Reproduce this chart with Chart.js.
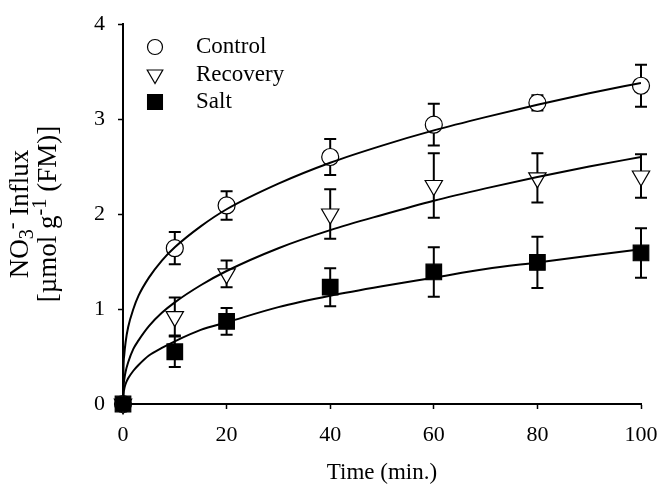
<!DOCTYPE html>
<html>
<head>
<meta charset="utf-8">
<script src="https://cdn.jsdelivr.net/npm/chart.js@4.4.0/dist/chart.umd.min.js"></script>
<style>
  html, body { margin: 0; padding: 0; background: #fff; }
  #wrap { width: 660px; height: 487px; }
</style>
</head>
<body>
<div id="wrap"><canvas id="myChart" width="660" height="487"></canvas></div>
<script>
// measured time points (min.)
var time = [0, 10, 20, 40, 60, 80, 100];
var control = [0, 1.64, 2.09, 2.60, 2.94, 3.17, 3.35];
var controlErr = [0, 0.17, 0.15, 0.19, 0.22, 0.08, 0.22];
var recovery = [0, 0.92, 1.37, 2.00, 2.30, 2.38, 2.40];
var recoveryErr = [0, 0.20, 0.14, 0.26, 0.34, 0.26, 0.23];
var salt = [0, 0.55, 0.87, 1.23, 1.39, 1.49, 1.59];
var saltErr = [0, 0.16, 0.14, 0.20, 0.26, 0.27, 0.26];

// fitted curves
var fitTime = [0, 0.1, 0.25, 0.5, 1, 2, 3, 5, 7.5, 10, 15, 20, 30, 40, 50, 60, 70, 80, 90, 100];
var controlFit = [0, 0.39, 0.52, 0.65, 0.81, 1.00, 1.14, 1.33, 1.51, 1.65, 1.87, 2.05, 2.32, 2.54, 2.72, 2.88, 3.02, 3.15, 3.27, 3.38];
var recoveryFit = [0, 0.18, 0.26, 0.34, 0.44, 0.58, 0.67, 0.82, 0.96, 1.07, 1.25, 1.40, 1.64, 1.83, 1.99, 2.14, 2.27, 2.39, 2.50, 2.60];
var saltFit = [0, 0.11, 0.16, 0.21, 0.27, 0.35, 0.41, 0.51, 0.59, 0.66, 0.78, 0.86, 1.02, 1.14, 1.24, 1.33, 1.42, 1.49, 1.56, 1.63];

var seriesNames = ['Control', 'Recovery', 'Salt'];
var xTicks = [0, 20, 40, 60, 80, 100];
var yTicks = [0, 1, 2, 3, 4];

// y axis title, split into pieces: sub = subscript, sup = superscript
var yTitle1 = [{ t: 'NO' }, { t: '3', sub: true }, { t: '-', sup: true }, { t: ' Influx' }];
var yTitle2 = [{ t: '[\u00B5mol g' }, { t: '-1', sup: true }, { t: ' (FM)]' }];

var FONT = "'Liberation Serif', 'Times New Roman', serif";

function pts(xs, ys) {
    return xs.map(function (x, i) { return { x: x, y: ys[i] }; });
}

function fitLine(ys) {
    return {
        type: 'line',
        data: pts(fitTime, ys),
        borderColor: '#000',
        borderWidth: 2,
        pointRadius: 0,
        fill: false,
        showLine: true,
        cubicInterpolationMode: 'monotone',
        order: 0
    };
}

var markers = [
    { pointStyle: 'circle', radius: 8.5, legendRadius: 7.5, rotation: 0, fill: '#fff' },
    { pointStyle: 'triangle', radius: 10, legendRadius: 9, rotation: 180, fill: '#fff' },
    { pointStyle: 'rect', radius: 11, legendRadius: 10.5, rotation: 0, fill: '#000' }
];

function markerSet(ys, errs, m, order, label) {
    return {
        type: 'scatter',
        label: label,
        data: pts(time, ys),
        errors: errs,
        pointStyle: m.pointStyle,
        pointRadius: m.radius,
        pointRotation: m.rotation,
        pointBackgroundColor: m.fill,
        pointBorderColor: '#000',
        pointBorderWidth: 1.2,
        showLine: false,
        clip: false,
        order: order
    };
}

var errorBars = {
    id: 'errorBars',
    beforeDatasetsDraw: function (chart) {
        var ctx = chart.ctx, xs = chart.scales.x, ys = chart.scales.y;
        ctx.save();
        ctx.strokeStyle = '#000';
        ctx.lineWidth = 2;
        chart.data.datasets.forEach(function (ds) {
            if (!ds.errors) return;
            ds.data.forEach(function (p, i) {
                var e = ds.errors[i];
                if (!e) return;
                var x = xs.getPixelForValue(p.x);
                var y1 = ys.getPixelForValue(p.y + e);
                var y2 = ys.getPixelForValue(p.y - e);
                ctx.beginPath();
                ctx.moveTo(x, y1); ctx.lineTo(x, y2);
                ctx.moveTo(x - 6, y1); ctx.lineTo(x + 6, y1);
                ctx.moveTo(x - 6, y2); ctx.lineTo(x + 6, y2);
                ctx.stroke();
            });
        });
        ctx.restore();
    }
};

function drawRich(ctx, parts, cx, cy, size) {
    var total = 0;
    parts.forEach(function (p) {
        ctx.font = ((p.sub || p.sup) ? size * 0.75 : size) + 'px ' + FONT;
        p.w = ctx.measureText(p.t).width;
        total += p.w;
    });
    ctx.save();
    ctx.translate(cx, cy);
    ctx.rotate(-Math.PI / 2);
    ctx.textBaseline = 'alphabetic';
    var x = -total / 2;
    parts.forEach(function (p) {
        ctx.font = ((p.sub || p.sup) ? size * 0.75 : size) + 'px ' + FONT;
        var dy = p.sub ? size * 0.2 : (p.sup ? -size * 0.38 : 0);
        ctx.fillText(p.t, x, size * 0.33 + dy);
        x += p.w;
    });
    ctx.restore();
}

var labels = {
    id: 'labels',
    afterDraw: function (chart) {
        var ctx = chart.ctx, area = chart.chartArea;
        ctx.save();
        ctx.fillStyle = '#000';
        var midY = (area.top + area.bottom) / 2;
        drawRich(ctx, yTitle1, 19, midY, 27);
        drawRich(ctx, yTitle2, 47, midY, 27);

        ctx.font = '23px ' + FONT;
        ctx.textBaseline = 'middle';
        seriesNames.forEach(function (name, i) {
            var m = markers[i];
            var mx = area.left + 32, my = area.top + 23 + i * 27.5;
            ctx.fillStyle = m.fill;
            ctx.strokeStyle = '#000';
            ctx.lineWidth = 1.2;
            Chart.helpers.drawPoint(ctx, {
                pointStyle: m.pointStyle, radius: m.legendRadius, rotation: m.rotation, borderWidth: 1.2
            }, mx, my);
            ctx.fillStyle = '#000';
            ctx.fillText(name, area.left + 73, my);
        });
        ctx.restore();
    }
};

var config = {
    type: 'scatter',
    data: {
        datasets: [
            fitLine(controlFit),
            fitLine(recoveryFit),
            fitLine(saltFit),
            markerSet(salt, saltErr, markers[2], 1, seriesNames[2]),
            markerSet(recovery, recoveryErr, markers[1], 2, seriesNames[1]),
            markerSet(control, controlErr, markers[0], 3, seriesNames[0])
        ]
    },
    options: {
        responsive: false,
        animation: false,
        layout: { padding: { top: 24, right: 0, left: 0, bottom: 0 } },
        plugins: {
            legend: { display: false },
            tooltip: { enabled: false }
        },
        scales: {
            x: {
                type: 'linear',
                min: 0,
                max: 100,
                afterBuildTicks: function (s) { s.ticks = xTicks.map(function (v) { return { value: v }; }); },
                afterFit: function (s) { s.height = 83; s.paddingLeft = 0; s.paddingRight = 19; },
                border: { color: '#000', width: 2 },
                grid: { drawOnChartArea: false, tickLength: 5, tickColor: '#000', tickWidth: 1.5 },
                ticks: { color: '#000', font: { family: FONT, size: 22 }, padding: 13, maxRotation: 0 },
                title: { display: true, text: 'Time (min.)', color: '#000', font: { family: FONT, size: 23 }, padding: { top: 4, bottom: 0 } }
            },
            y: {
                type: 'linear',
                min: 0,
                max: 4,
                afterBuildTicks: function (s) { s.ticks = yTicks.map(function (v) { return { value: v }; }); },
                afterFit: function (s) { s.width = 123; s.paddingTop = 0; s.paddingBottom = 0; },
                border: { color: '#000', width: 2 },
                grid: { drawOnChartArea: false, tickLength: 5, tickColor: '#000', tickWidth: 1.5 },
                ticks: { color: '#000', font: { family: FONT, size: 22 }, padding: 13 }
            }
        }
    },
    plugins: [errorBars, labels]
};

myChart = new Chart(document.getElementById('myChart'), config);
</script>
</body>
</html>
